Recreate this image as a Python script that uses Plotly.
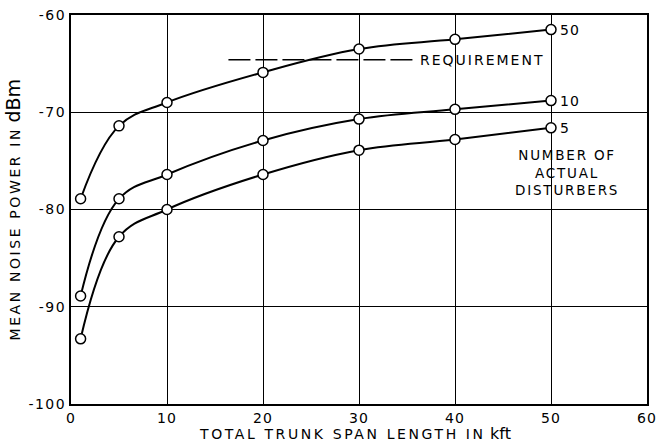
import plotly.graph_objects as go

span_kft = [1, 5, 10, 20, 30, 40, 50]
noise_50 = [-78.9, -71.4, -69.0, -65.9, -63.5, -62.5, -61.5]
noise_10 = [-88.9, -78.9, -76.4, -72.9, -70.7, -69.7, -68.8]
noise_5 = [-93.3, -82.8, -80.0, -76.4, -73.9, -72.8, -71.6]
series_labels = ["50", "10", "5"]
requirement_level = -64.6
requirement_span = [16.4, 35.6]
x_ticks = [0, 10, 20, 30, 40, 50, 60]
y_ticks = [-100, -90, -80, -70, -60]
y_tick_text = ["-100", "-90", "-80", "-70", "-60"]

FONT = "DejaVu Sans"


def spaced(t, ls=2):
    return "<span style='letter-spacing:%gpx'>%s</span>" % (ls, t)


fig = go.Figure()

for ys, lab in zip([noise_50, noise_10, noise_5], series_labels):
    fig.add_trace(go.Scatter(
        x=span_kft, y=ys, mode="lines+markers",
        line=dict(color="black", width=2, shape="spline", smoothing=1.1),
        marker=dict(symbol="circle", size=10, color="white",
                    line=dict(color="black", width=1.5)),
        showlegend=False, hoverinfo="skip"))
    fig.add_annotation(x=span_kft[-1], y=ys[-1], text=spaced(lab, 1), showarrow=False,
                       xanchor="left", yanchor="middle", xshift=7,
                       font=dict(family=FONT, size=14, color="black"))

fig.add_trace(go.Scatter(
    x=requirement_span, y=[requirement_level] * 2, mode="lines",
    line=dict(color="black", width=1.3, dash="22px,5px"),
    showlegend=False, hoverinfo="skip"))
fig.add_annotation(x=requirement_span[1], y=requirement_level, text=spaced("REQUIREMENT", 2),
                   showarrow=False, xanchor="left", yanchor="middle", xshift=5,
                   font=dict(family=FONT, size=14, color="black"))
fig.add_annotation(x=51.7, y=-76.2,
                   text=spaced("NUMBER OF", 1.8) + "<br>" + spaced("ACTUAL", 1.8) + "<br>" + spaced("DISTURBERS", 1.8),
                   showarrow=False, xanchor="center", yanchor="middle",
                   align="center",
                   font=dict(family=FONT, size=13.5, color="black"))

axis_common = dict(showgrid=True, gridcolor="black", gridwidth=1.4,
                   showline=True, linecolor="black", linewidth=2, mirror=True,
                   ticks="", zeroline=False, automargin=False,
                   tickfont=dict(family=FONT, size=14, color="black"))

fig.update_xaxes(range=[0, 60], tickvals=x_ticks,
                 ticktext=[spaced(str(v), 1) for v in x_ticks], **axis_common)
fig.update_yaxes(range=[-100, -60], tickvals=y_ticks,
                 ticktext=[spaced(t, 1.5) for t in y_tick_text], **axis_common)

fig.add_annotation(xref="paper", yref="paper", x=0.493, y=-0.076,
                   text=spaced("TOTAL TRUNK SPAN LENGTH IN", 2.6) + " <span style='font-size:16px'>kft</span>",
                   showarrow=False, xanchor="center", yanchor="middle",
                   font=dict(family=FONT, size=14, color="black"))
fig.add_annotation(xref="paper", yref="paper", x=-0.1024, y=0.5, textangle=-90,
                   text=spaced("MEAN NOISE POWER IN", 2.6) + " <span style='font-size:19px'>dBm</span>",
                   showarrow=False, xanchor="center", yanchor="middle",
                   font=dict(family=FONT, size=14, color="black"))

fig.update_layout(width=658, height=443, margin=dict(l=71, r=11, t=15, b=39),
                  paper_bgcolor="white", plot_bgcolor="white")
fig.write_html("out.html", config={"displayModeBar": False},
               post_script="document.body.style.margin='0px';")
